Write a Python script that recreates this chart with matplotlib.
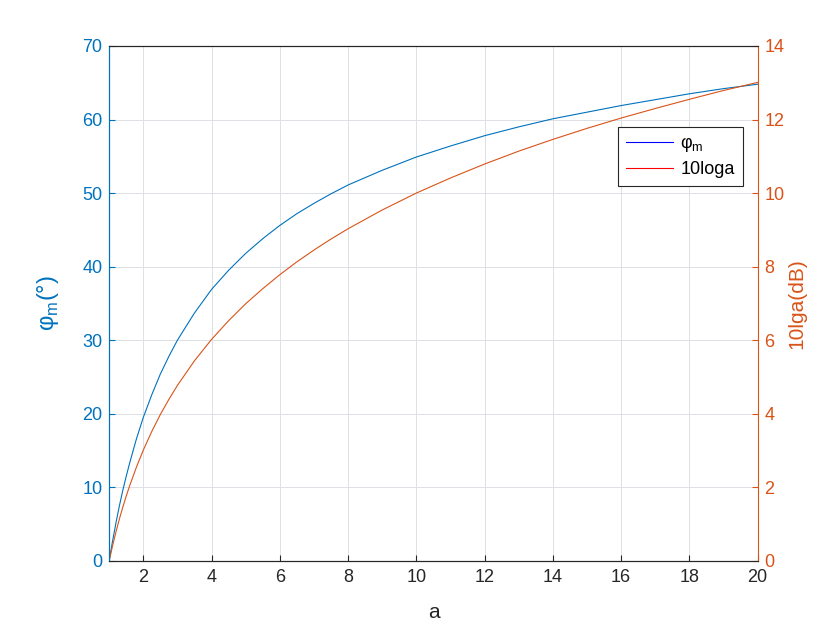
import numpy as np
import matplotlib.pyplot as plt
from matplotlib.lines import Line2D

plt.rcParams['font.family'] = ['Liberation Sans', 'DejaVu Sans']
plt.rcParams['mathtext.fontset'] = 'custom'
plt.rcParams['mathtext.rm'] = 'Liberation Sans'

# values
a = [1, 1.1, 1.2, 1.3, 1.4, 1.5, 1.6, 1.8, 2, 2.25, 2.5, 2.75, 3, 3.5, 4,
     4.5, 5, 5.5, 6, 6.5, 7, 7.5, 8, 9, 10, 11, 12, 13, 14, 15, 16, 17,
     18, 19, 20]
phi_m = [0, 2.7, 5.2, 7.5, 9.6, 11.5, 13.3, 16.6, 19.5, 22.6, 25.4, 27.8,
         30.0, 33.7, 36.9, 39.5, 41.8, 43.8, 45.6, 47.2, 48.6, 49.9, 51.1,
         53.1, 54.9, 56.4, 57.8, 59.0, 60.1, 61.0, 61.9, 62.7, 63.5, 64.2,
         64.8]
gain_db = [0, 0.41, 0.79, 1.14, 1.46, 1.76, 2.04, 2.55, 3.01, 3.52, 3.98,
           4.39, 4.77, 5.44, 6.02, 6.53, 6.99, 7.40, 7.78, 8.13, 8.45, 8.75,
           9.03, 9.54, 10.0, 10.41, 10.79, 11.14, 11.46, 11.76, 12.04, 12.30,
           12.55, 12.79, 13.01]
x_ticks = [2, 4, 6, 8, 10, 12, 14, 16, 18, 20]
left_ticks = [0, 10, 20, 30, 40, 50, 60, 70]
right_ticks = [0, 2, 4, 6, 8, 10, 12, 14]

BLUE = '#0072BD'
ORANGE = '#D95319'
DARK = '#262626'

fig = plt.figure(figsize=(8.4, 6.3), dpi=100)
ax = fig.add_axes([0.130, 0.110, 0.772, 0.817])
ax2 = ax.twinx()

ax.plot(a, phi_m, color=BLUE, lw=0.8)
ax2.plot(a, gain_db, color=ORANGE, lw=0.8)

ax.set_xlim(1, 20)
ax.set_ylim(0, 70)
ax2.set_ylim(0, 14)
ax.set_xticks(x_ticks)
ax.set_yticks(left_ticks)
ax2.set_yticks(right_ticks)

ax.grid(True, color='#DCE0E4', lw=0.7)
ax.set_axisbelow(True)

fs = 13
ax.tick_params(axis='x', direction='in', colors=DARK, labelsize=fs, length=4, pad=6)
ax.tick_params(axis='y', direction='in', colors=BLUE, labelsize=fs, length=4, pad=5)
ax2.tick_params(axis='y', direction='in', colors=ORANGE, labelsize=fs, length=4, pad=5)

for s in ['top', 'bottom']:
    ax.spines[s].set_color(DARK)
    ax2.spines[s].set_color(DARK)
ax.spines['left'].set_color(BLUE)
ax2.spines['left'].set_color(BLUE)
ax2.spines['right'].set_color(ORANGE)
ax.spines['right'].set_visible(False)

ax.set_xlabel('a', fontsize=15, color=DARK, labelpad=12)
ax.set_ylabel(r'φ$_{\rm m}$(°)', fontsize=17, color=BLUE, labelpad=15)
ax2.set_ylabel('10lga(dB)', fontsize=15, color=ORANGE, labelpad=2)

handles = [Line2D([], [], color='blue', lw=0.8), Line2D([], [], color='red', lw=0.8)]
leg = ax2.legend(handles, [r'φ$_{\rm m}$', '10loga'], loc='upper right',
                 bbox_to_anchor=(0.977, 0.843), borderaxespad=0, fancybox=False,
                 framealpha=1, edgecolor=DARK, fontsize=13, handlelength=2.6,
                 handletextpad=0.4, labelspacing=0.4, borderpad=0.45)
leg.get_frame().set_linewidth(0.8)

fig.savefig('out.png', dpi=100)
